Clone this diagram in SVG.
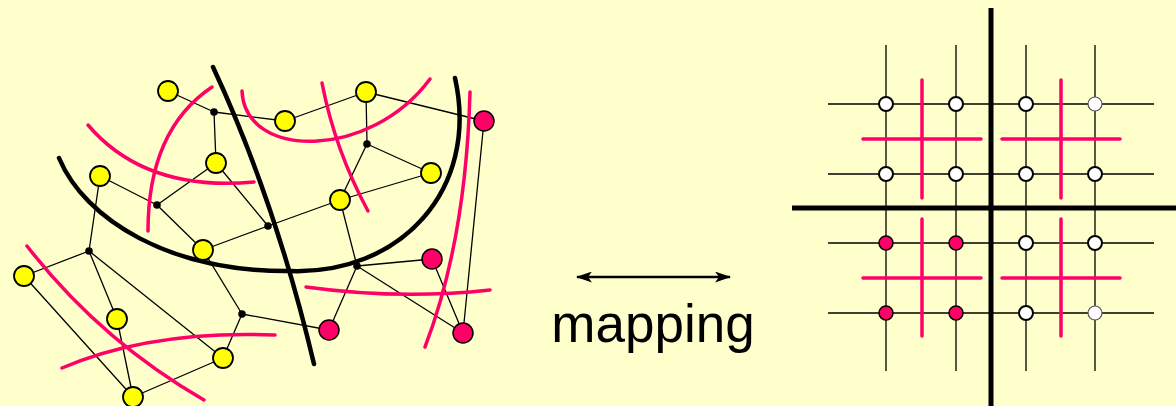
<svg xmlns="http://www.w3.org/2000/svg" width="1176" height="406" viewBox="0 0 1176 406">
<defs>
<style>
.e{stroke:#000;stroke-width:1.3;fill:none}
.y{fill:#FFFF00;stroke:#000;stroke-width:1.8}
.p{fill:#FF0066;stroke:#000;stroke-width:1.5}
.d{fill:#000}
.cut{stroke:#FF0066;stroke-width:3.5;fill:none;stroke-linecap:round}
.bk{stroke:#000;stroke-width:4.5;fill:none;stroke-linecap:round}
.g{stroke:#000;stroke-width:1.3;fill:none}
.w{fill:#fff;stroke:#000;stroke-width:2}
.wl{fill:#fff;stroke:#555;stroke-width:1.2}
.gp{fill:#FF0066;stroke:#000;stroke-width:1.5}
.txt{font-family:"Liberation Sans",Arial,sans-serif;font-size:53px;fill:#000}
</style>
<marker id="ah" viewBox="0 0 16 11" refX="15" refY="5.5" markerWidth="16" markerHeight="11" markerUnits="userSpaceOnUse" orient="auto-start-reverse">
<path d="M0,0 L16,5.5 L0,11 L4,5.5 Z" fill="#000"/>
</marker>
</defs>
<rect width="1176" height="406" fill="#FFFFCC"/>

<g id="connectors">
<path class="e" d="M168,91 L214,112 M214,112 L216,163 M214,112 L285,121 M285,121 L366,92 M366,92 L484,121 M366,92 L367,144 M367,144 L431,173 M367,144 L340,200 M431,173 L340,200 M340,200 L268,226 M268,226 L203,250 M216,163 L268,226 M340,200 L357,266 M484,121 L463,333 M100,176 L157,205 M157,205 L216,163 M157,205 L203,250 M100,176 L89,251 M89,251 L24,276 M89,251 L117,319 M89,251 L223,358 M24,276 L133,397 M117,319 L133,397 M133,397 L223,358 M223,358 L242,314 M242,314 L203,250 M242,314 L329,330 M357,266 L329,330 M357,266 L432,259 M357,266 L463,333 M432,259 L463,333"/>
</g>

<g id="cuts">
<path class="bk" d="M59,158 C85,220 170,272 290,271 C400,275 480,190 455,78"/>
<path class="bk" d="M213,67 Q275,200 314,364"/>
<path class="cut" d="M88,125 Q145,192 254,182"/>
<path class="cut" d="M212,87 Q148,130 148,231"/>
<path class="cut" d="M242,91 C245,160 370,160 430,79"/>
<path class="cut" d="M322,83 Q335,150 368,211"/>
<path class="cut" d="M470,92 Q466,240 425,347"/>
<path class="cut" d="M306,287 Q400,300 490,290"/>
<path class="cut" d="M27,246 Q100,340 204,400"/>
<path class="cut" d="M62,368 Q150,330 275,335"/>
</g>

<g id="n-y1"><circle class="y" cx="168" cy="91" r="10"/></g>
<g id="n-y2"><circle class="y" cx="285" cy="121" r="10"/></g>
<g id="n-y3"><circle class="y" cx="366" cy="92" r="10"/></g>
<g id="n-y4"><circle class="y" cx="216" cy="163" r="10"/></g>
<g id="n-y5"><circle class="y" cx="100" cy="176" r="10"/></g>
<g id="n-y6"><circle class="y" cx="431" cy="173" r="10"/></g>
<g id="n-y7"><circle class="y" cx="340" cy="200" r="10"/></g>
<g id="n-y8"><circle class="y" cx="203" cy="250" r="10"/></g>
<g id="n-y9"><circle class="y" cx="24" cy="276" r="10"/></g>
<g id="n-y10"><circle class="y" cx="117" cy="319" r="10"/></g>
<g id="n-y11"><circle class="y" cx="223" cy="358" r="10"/></g>
<g id="n-y12"><circle class="y" cx="133" cy="397" r="10"/></g>
<g id="n-p1"><circle class="p" cx="484" cy="121" r="10"/></g>
<g id="n-p2"><circle class="p" cx="432" cy="259" r="10"/></g>
<g id="n-p3"><circle class="p" cx="329" cy="330" r="10"/></g>
<g id="n-p4"><circle class="p" cx="463" cy="333" r="10"/></g>
<g id="n-b1"><circle class="d" cx="214" cy="112" r="3.8"/></g>
<g id="n-b2"><circle class="d" cx="157" cy="205" r="3.8"/></g>
<g id="n-b3"><circle class="d" cx="367" cy="144" r="3.8"/></g>
<g id="n-b4"><circle class="d" cx="268" cy="226" r="3.8"/></g>
<g id="n-b5"><circle class="d" cx="89" cy="251" r="3.8"/></g>
<g id="n-b6"><circle class="d" cx="242" cy="314" r="3.8"/></g>
<g id="n-b7"><circle class="d" cx="357" cy="266" r="3.8"/></g>

<g id="mapping">
<line x1="577" y1="277" x2="730" y2="277" stroke="#000" stroke-width="2.5" marker-start="url(#ah)" marker-end="url(#ah)"/>
<text class="txt" x="653" y="342" text-anchor="middle">mapping</text>
</g>

<g id="grid">
<path class="g" d="M886,45 V371 M956,45 V371 M1026,45 V371 M1095,45 V371 M828,104 H1154 M828,174 H1154 M828,243 H1154 M828,313 H1154"/>
<path d="M991,8 V406 M792,208 H1176" stroke="#000" stroke-width="5" fill="none"/>
<path class="cut" stroke-linecap="butt" d="M922,80 V198 M863,139 H981 M1061,80 V198 M1002,139 H1120 M922,219 V336 M863,278 H981 M1061,219 V336 M1002,278 H1120"/>
<circle class="w" cx="886" cy="104" r="7"/>
<circle class="w" cx="956" cy="104" r="7"/>
<circle class="w" cx="1026" cy="104" r="7"/>
<circle class="wl" cx="1095" cy="104" r="7"/>
<circle class="w" cx="886" cy="174" r="7"/>
<circle class="w" cx="956" cy="174" r="7"/>
<circle class="w" cx="1026" cy="174" r="7"/>
<circle class="w" cx="1095" cy="174" r="7"/>
<circle class="gp" cx="886" cy="243" r="7"/>
<circle class="gp" cx="956" cy="243" r="7"/>
<circle class="w" cx="1026" cy="243" r="7"/>
<circle class="w" cx="1095" cy="243" r="7"/>
<circle class="gp" cx="886" cy="313" r="7"/>
<circle class="gp" cx="956" cy="313" r="7"/>
<circle class="w" cx="1026" cy="313" r="7"/>
<circle class="wl" cx="1095" cy="313" r="7"/>
</g>
</svg>
